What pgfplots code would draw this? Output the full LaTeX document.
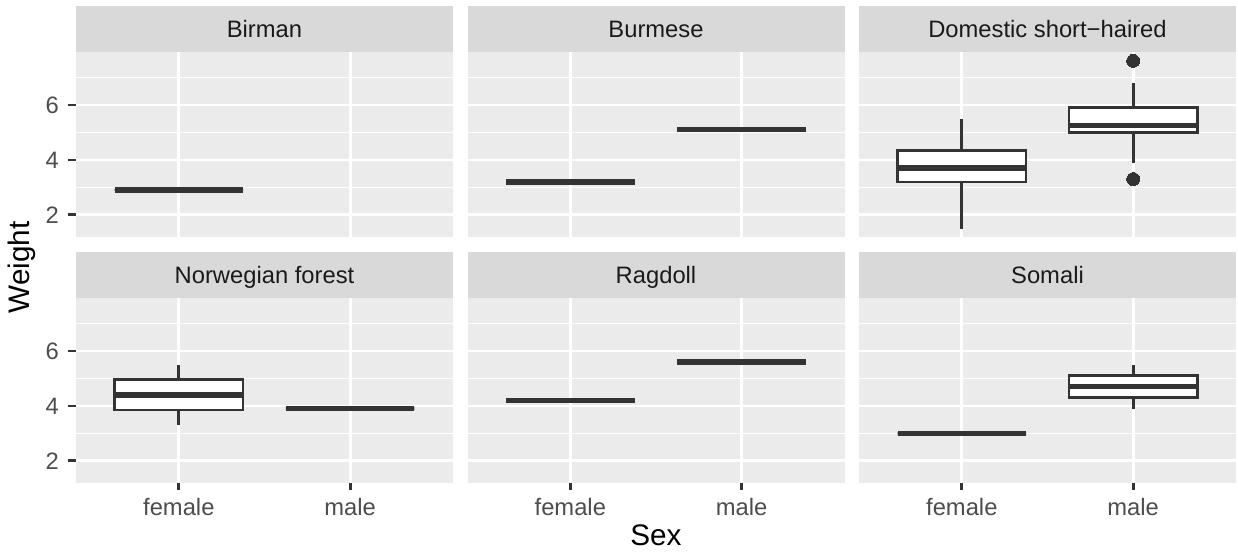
\documentclass[border=0pt]{standalone}
\usepackage{fontspec}
\setmainfont{Liberation Sans}
\usepackage{pgfplots}
\pgfplotsset{compat=1.18}
\usepgfplotslibrary{statistics}
\definecolor{c33}{HTML}{333333}
\definecolor{c4d}{HTML}{4D4D4D}
\definecolor{c1a}{HTML}{1A1A1A}
\definecolor{g92}{HTML}{EBEBEB}
\definecolor{g85}{HTML}{D9D9D9}
\pgfplotsset{
 every axis title/.style={at={(0.5,1)}, anchor=south, fill=g85,
    minimum width=139.63pt, minimum height=17.04pt, inner sep=0pt,
    text=c1a, font=\fontsize{8.8}{10}\selectfont, text height=6.3pt, text depth=0pt},
 panel/.style={
  scale only axis, width=139.63pt, height=68.33pt,
  xmin=0.4, xmax=2.6, ymin=1.195, ymax=7.905,
  xtick={1,2}, xticklabels={female,male},
  ytick={2,4,6}, minor ytick={3,5,7},
  /pgf/number format/assume math mode=true,
  xmajorgrids, ymajorgrids, yminorgrids,
  major grid style={white, line width=1pt},
  minor grid style={white, line width=0.5pt},
  axis background/.style={fill=g92},
  axis line style={draw=none},
  tick align=outside, xtick pos=left, ytick pos=left,
  major tick length=2.78pt, minor tick length=0pt,
  tick style={draw=c33, line width=1pt},
  minor tick style={draw=none},
  ticklabel style={font=\fontsize{8.8}{10}\selectfont, text=c4d},
  xticklabel style={yshift=0.8pt},
  anchor=south west,
  boxplot/draw direction=y,
  boxplot/box extend=0.75,
  boxplot/whisker extend=0,
  boxplot/every box/.style={fill=white, draw=c33, line width=1pt},
  boxplot/every whisker/.style={draw=c33, line width=1pt},
  boxplot/every median/.style={draw=c33, line width=2.1pt},
 },
 noy/.style={yticklabels={}, ytick style={draw=none}},
 nox/.style={xticklabels={}, xtick style={draw=none}},
 bx/.style={draw=c33, solid, mark=*, mark size=2.4pt, mark options={fill=c33, draw=c33, line width=0pt}},
}
% \bp{pos}{lower whisker}{q1}{median}{q3}{upper whisker}
\newcommand{\bp}[6]{\addplot[bx, boxplot prepared={draw position=#1, lower whisker=#2, lower quartile=#3, median=#4, upper quartile=#5, upper whisker=#6}] coordinates {};}
\begin{document}
\begin{tikzpicture}
\path[use as bounding box] (0,0) rectangle (458.52pt,204.44pt);
% ---- top row ----
\begin{axis}[panel, nox, at={(28.15pt,116.67pt)}, title={Birman}]
 \bp{1}{2.9}{2.9}{2.9}{2.9}{2.9}
\end{axis}
\begin{axis}[panel, nox, noy, at={(173.15pt,116.67pt)}, title={Burmese}]
 \bp{1}{3.2}{3.2}{3.2}{3.2}{3.2}
 \bp{2}{5.1}{5.1}{5.1}{5.1}{5.1}
\end{axis}
\begin{axis}[panel, nox, noy, at={(318.15pt,116.67pt)}, title={Domestic short−haired}]
 \bp{1}{1.5}{3.2}{3.7}{4.35}{5.5}
 \addplot[bx, boxplot prepared={draw position=2, lower whisker=3.9, lower quartile=5.0, median=5.25, upper quartile=5.9, upper whisker=6.8}] table[row sep=\\, y index=0] {7.6\\3.3\\};
\end{axis}
% ---- bottom row ----
\begin{axis}[panel, at={(28.15pt,25.56pt)}, title={Norwegian forest}]
 \bp{1}{3.3}{3.85}{4.4}{4.95}{5.5}
 \bp{2}{3.9}{3.9}{3.9}{3.9}{3.9}
\end{axis}
\begin{axis}[panel, noy, at={(173.15pt,25.56pt)}, title={Ragdoll}]
 \bp{1}{4.2}{4.2}{4.2}{4.2}{4.2}
 \bp{2}{5.6}{5.6}{5.6}{5.6}{5.6}
\end{axis}
\begin{axis}[panel, noy, at={(318.15pt,25.56pt)}, title={Somali}]
 \bp{1}{3.0}{3.0}{3.0}{3.0}{3.0}
 \bp{2}{3.9}{4.3}{4.7}{5.1}{5.5}
\end{axis}
\node[rotate=90, anchor=base, font=\fontsize{11}{13}\selectfont] at (11.11pt,105.37pt) {Weight};
\node[anchor=base, font=\fontsize{11}{13}\selectfont] at (242.96pt,2.4pt) {Sex};
\end{tikzpicture}
\end{document}
